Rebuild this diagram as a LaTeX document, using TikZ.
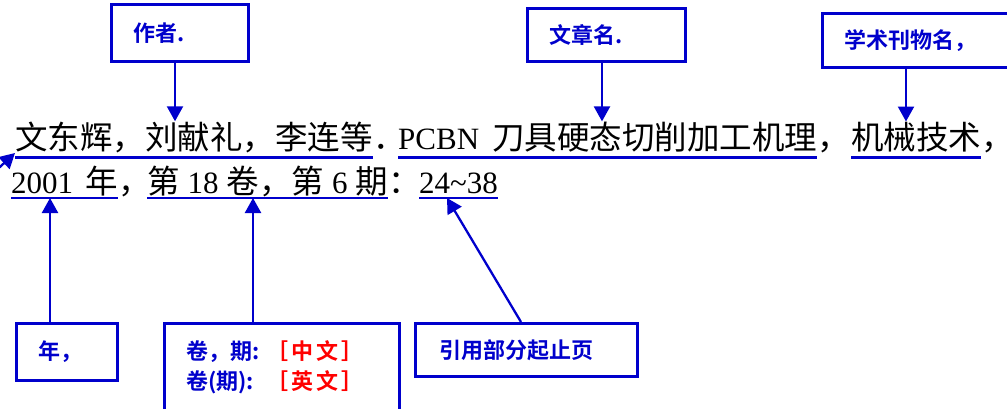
\documentclass[tikz,border=0pt]{standalone}
\usepackage{fontspec}
\setmainfont{Liberation Serif}
\newfontfamily\cjk{Noto Sans CJK SC}
\newfontfamily\cjkb{Noto Sans CJK SC Bold}
\usetikzlibrary{arrows.meta}
\definecolor{lblue}{RGB}{0,0,204}
\definecolor{lred}{RGB}{255,0,0}
\newcommand{\zhtxt}[1]{{\cjk\fontsize{32.5}{36}\selectfont #1}}
\tikzset{
  lab/.style={draw=lblue, line width=2.6pt, fill=white, anchor=north west,
    inner xsep=22pt, inner ysep=0pt, align=left, text=lblue,
    font=\cjkb\fontsize{22}{30}\selectfont},
  conn/.style={lblue, line width=2.3pt, -{Triangle[length=15pt,width=16pt]}},
  uline/.style={lblue, line width=2.6pt},
  txt/.style={inner sep=0pt, anchor=base west, font=\fontsize{31}{36}\selectfont}
}
\begin{document}
\begin{tikzpicture}[x=1pt,y=-1pt]
\useasboundingbox (0,0) rectangle (1007,408);
% reference text
\node[txt] (A1) at (15,149) {\zhtxt{文东辉，刘献礼，李连等}};
\node[txt] (P1) at (A1.base east) {\zhtxt{．}};
\node[txt] (A2) at (398,149) {PCBN\hspace{13pt}\zhtxt{刀具硬态切削加工机理}};
\node[txt] (P2) at (A2.base east) {\zhtxt{，}};
\node[txt] (A3) at (851,149) {\zhtxt{机械技术}};
\node[txt] (P3) at (A3.base east) {\zhtxt{，}};
\node[txt] (B1) at (11,193) {2001\hspace{12pt}\zhtxt{年}};
\node[txt] (P4) at (B1.base east) {\zhtxt{，}};
\node[txt] (B2) at (147,193) {\zhtxt{第}\hspace{8pt}18\hspace{8pt}\zhtxt{卷，第}\hspace{8pt}6\hspace{8pt}\zhtxt{期}};
\node[txt] (P5) at (B2.base east) {\zhtxt{：}};
\node[txt] (B3) at (419,193) {24\textasciitilde38};
% underlines
\foreach \n in {A1,A2,A3}
  \draw[uline] ([yshift=-8.5pt]\n.base west) -- ([yshift=-8.5pt]\n.base east);
\foreach \n in {B1,B2,B3}
  \draw[uline] ([yshift=-5pt]\n.base west) -- ([yshift=-5pt]\n.base east);
\coordinate (u2) at ([yshift=-5pt]B1.base west);
% label boxes
\node[lab, text width=93pt, minimum height=57pt] (zz) at (110,3) {作者.};
\node[lab, text width=114pt, minimum height=53pt] (wz) at (526,7) {文章名.};
\node[lab, text width=176pt, minimum height=54pt] (kw) at (821,12) {学术刊物名，};
\node[lab, text width=57pt, minimum height=57pt] (nian) at (15,322) {年，};
\node[lab, text width=191pt, text height=36pt, text depth=72pt] (juan) at (163,322)
  {\makebox[80pt][l]{卷，期:}{\color{lred}［\hspace{3pt}中\hspace{3pt}文\hspace{3pt}］}\\\makebox[80pt][l]{卷(期):}{\color{lred}［\hspace{3pt}英\hspace{3pt}文\hspace{3pt}］}};
\node[lab, text width=174pt, minimum height=53pt, inner xsep=24pt] (yin) at (414,322) {引用部分起止页};
% connectors
\draw[conn] ([xshift=65pt]zz.south west) -- ([xshift=65pt]zz.south west |- A1.north);
\draw[conn] ([xshift=76pt]wz.south west) -- ([xshift=76pt]wz.south west |- A2.north);
\draw[conn] ([xshift=85pt]kw.south west) -- ([xshift=85pt]kw.south west |- A3.north);
\draw[conn] ([xshift=35pt]nian.north west) -- ([xshift=35pt]nian.north west |- u2);
\draw[conn] ([xshift=90pt]juan.north west) -- ([xshift=90pt]juan.north west |- u2);
\draw[conn] ([xshift=107pt]yin.north west) -- ([xshift=28pt,yshift=-5pt]B3.base west);
\coordinate (lt) at (-12,178);
\draw[conn] (lt) -- ([yshift=-4pt]A1.base west);
\end{tikzpicture}
\end{document}
